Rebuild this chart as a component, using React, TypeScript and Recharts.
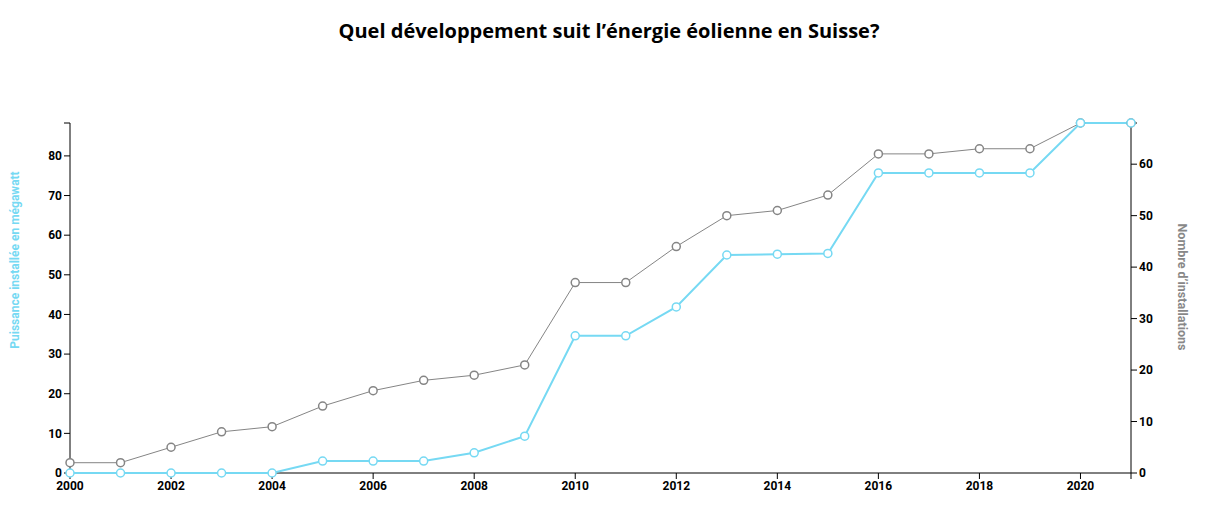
import React from 'react'
import { LineChart, Line, XAxis, YAxis, ReferenceLine } from 'recharts'

const years = [
  2000, 2001, 2002, 2003, 2004, 2005, 2006, 2007, 2008, 2009, 2010,
  2011, 2012, 2013, 2014, 2015, 2016, 2017, 2018, 2019, 2020, 2021,
]
const puissanceMW = [
  0, 0, 0, 0, 0, 3, 3, 3, 5.1, 9.3, 34.6,
  34.6, 41.9, 55, 55.2, 55.4, 75.7, 75.7, 75.7, 75.7, 88.3, 88.3,
]
const installations = [
  2, 2, 5, 8, 9, 13, 16, 18, 19, 21, 37,
  37, 44, 50, 51, 54, 62, 62, 63, 63, 68, 68,
]
const xTicks = [2000, 2002, 2004, 2006, 2008, 2010, 2012, 2014, 2016, 2018, 2020, 2021]
const leftTicks = [0, 10, 20, 30, 40, 50, 60, 70, 80, 88.3]
const rightTicks = [0, 10, 20, 30, 40, 50, 60, 68]

const CYAN = '#76d9f3'
const GRAY = '#858585'
const FONT = "'Liberation Sans Narrow', Roboto, 'Open Sans', sans-serif"

const data = years.map((year, i) => ({
  year,
  mw: puissanceMW[i],
  count: installations[i],
}))

const tickStyle = { fontSize: 12, fontWeight: 700, fill: '#000', fontFamily: FONT }

export default function App() {
  return (
    <div
      style={{
        position: 'absolute',
        left: 0,
        top: 0,
        width: 1206,
        height: 513,
        background: '#fff',
      }}
    >
      <div
        style={{
          position: 'absolute',
          top: 17,
          left: 0,
          width: 1218,
          textAlign: 'center',
          fontFamily: "'Open Sans', sans-serif",
          fontWeight: 700,
          fontSize: 20,
          color: '#000',
        }}
      >
        Quel développement suit l’énergie éolienne en Suisse?
      </div>
      <LineChart
        width={1206}
        height={513}
        data={data}
        margin={{ top: 123, right: 0, bottom: 0, left: 0 }}
      >
        <XAxis
          dataKey="year"
          type="number"
          domain={[2000, 2021]}
          ticks={xTicks}
          tickFormatter={(v) => (v === 2021 ? '' : String(v))}
          height={40}
          stroke="#000"
          axisLine={false}
          tickSize={6}
          tick={tickStyle}
          interval={0}
        />
        <YAxis
          yAxisId="left"
          domain={[0, 'dataMax']}
          ticks={leftTicks}
          tickFormatter={(v) => (v > 85 ? '' : String(v))}
          width={70}
          stroke="#000"
          tickSize={6}
          tick={tickStyle}
          interval={0}
          label={{
            value: 'Puissance installée en mégawatt',
            angle: -90,
            position: 'center',
            dx: -20,
            dy: -38,
            style: { fill: CYAN, fontSize: 12, fontWeight: 700, fontFamily: FONT },
          }}
        />
        <YAxis
          yAxisId="right"
          orientation="right"
          domain={[0, 'dataMax']}
          ticks={rightTicks}
          tickFormatter={(v) => (v > 65 ? '' : String(v))}
          width={75}
          stroke="#000"
          tickSize={6}
          tick={tickStyle}
          interval={0}
          label={{
            value: 'Nombre d’installations',
            angle: 90,
            position: 'center',
            dx: 14,
            dy: -11,
            style: { fill: '#888', fontSize: 12.5, fontWeight: 700, fontFamily: FONT },
          }}
        />
        <ReferenceLine yAxisId="left" y={0} stroke="#000" strokeWidth={1} />
        <Line
          yAxisId="right"
          dataKey="count"
          type="linear"
          stroke={GRAY}
          strokeWidth={1}
          dot={{ r: 4, stroke: GRAY, strokeWidth: 1.5, fill: '#fff' }}
          isAnimationActive={false}
        />
        <Line
          yAxisId="left"
          dataKey="mw"
          type="linear"
          stroke={CYAN}
          strokeWidth={2}
          dot={{ r: 4, stroke: CYAN, strokeWidth: 1.5, fill: '#fff' }}
          isAnimationActive={false}
        />
      </LineChart>
    </div>
  )
}
